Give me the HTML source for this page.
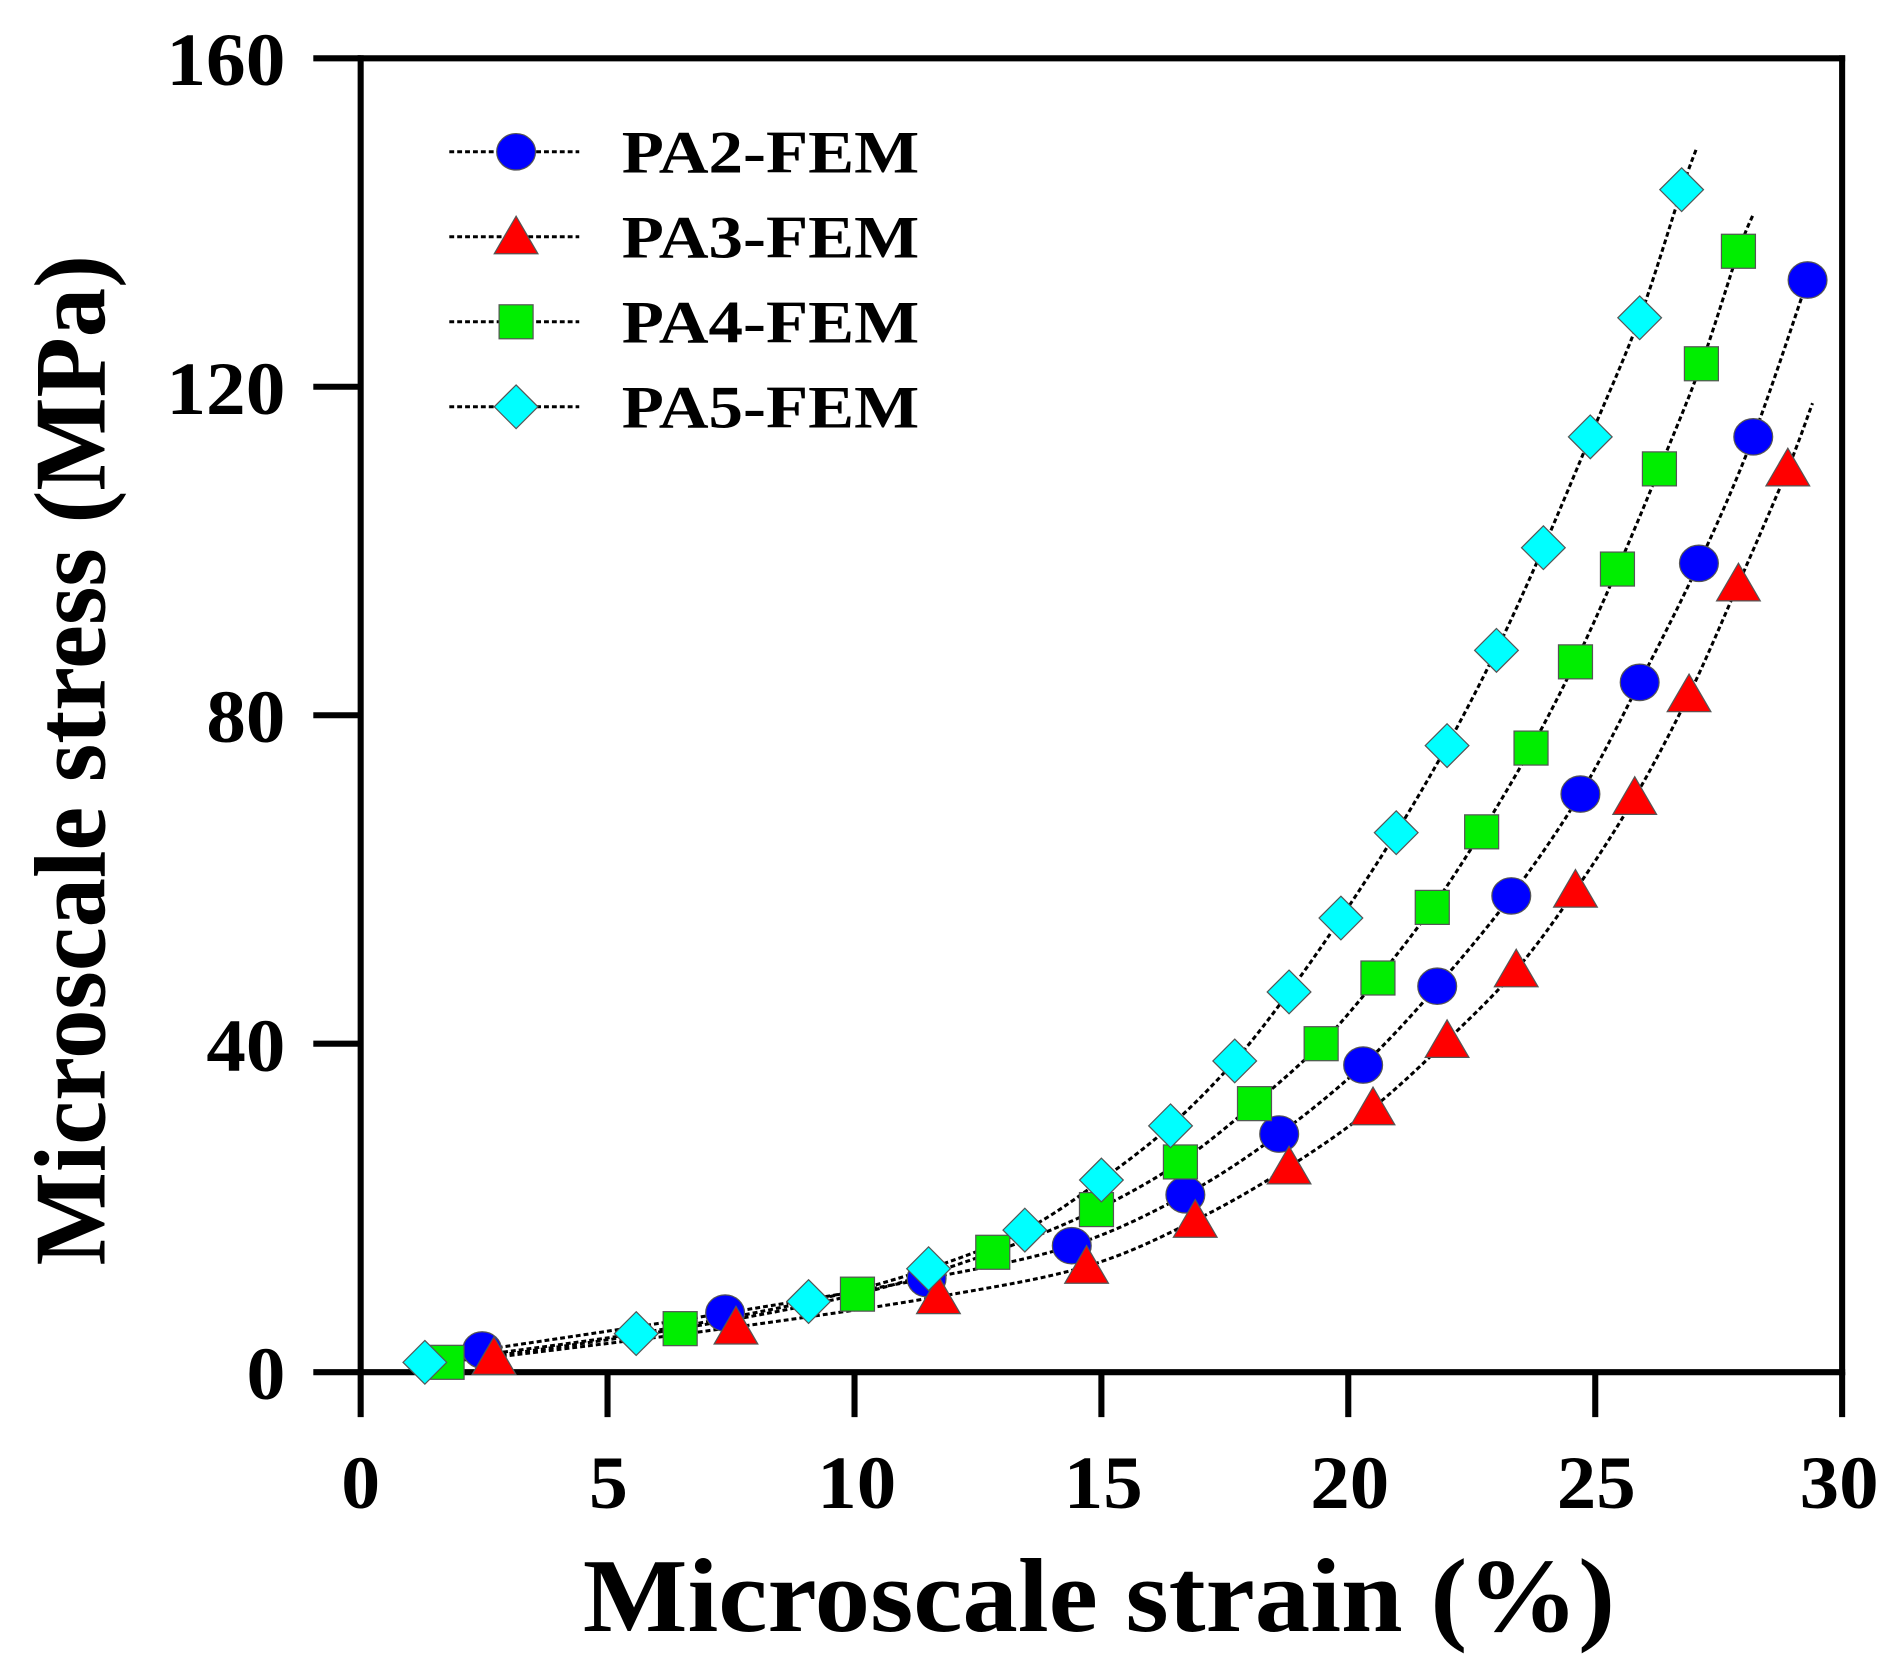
<!DOCTYPE html>
<html><head><meta charset="utf-8"><style>
html,body{margin:0;padding:0;background:#fff;}
svg{display:block;}
text{font-family:"Liberation Serif",serif;font-weight:bold;fill:#000;}
</style></head><body>
<svg id="s" width="1898" height="1680" viewBox="0 0 1563 1383.5" xmlns="http://www.w3.org/2000/svg">
<g stroke="#000" stroke-width="5" fill="none" stroke-linecap="butt">
<line x1="297" y1="45.5" x2="297" y2="1132.5"/>
<line x1="258" y1="1130" x2="1519.5" y2="1130"/>
<line x1="294.5" y1="48" x2="1519.5" y2="48"/>
<line x1="1517" y1="45.5" x2="1517" y2="1132.5"/>
<line x1="258" y1="48" x2="297" y2="48"/>
<line x1="258" y1="318.5" x2="297" y2="318.5"/>
<line x1="258" y1="589" x2="297" y2="589"/>
<line x1="258" y1="859.5" x2="297" y2="859.5"/>
<line x1="297" y1="1130" x2="297" y2="1167"/>
<line x1="500.3" y1="1130" x2="500.3" y2="1167"/>
<line x1="703.7" y1="1130" x2="703.7" y2="1167"/>
<line x1="907" y1="1130" x2="907" y2="1167"/>
<line x1="1110.3" y1="1130" x2="1110.3" y2="1167"/>
<line x1="1313.7" y1="1130" x2="1313.7" y2="1167"/>
<line x1="1517" y1="1130" x2="1517" y2="1167"/>
</g>
<g font-size="62">
<text x="137" y="70" textLength="98" lengthAdjust="spacingAndGlyphs">160</text>
<text x="137" y="341" textLength="98" lengthAdjust="spacingAndGlyphs">120</text>
<text x="170" y="611" textLength="65" lengthAdjust="spacingAndGlyphs">80</text>
<text x="170" y="882" textLength="65" lengthAdjust="spacingAndGlyphs">40</text>
<text x="203" y="1152" textLength="32" lengthAdjust="spacingAndGlyphs">0</text>
</g>
<g font-size="62">
<text x="281" y="1242" textLength="32" lengthAdjust="spacingAndGlyphs">0</text>
<text x="485" y="1242" textLength="32" lengthAdjust="spacingAndGlyphs">5</text>
<text x="673" y="1242" textLength="65" lengthAdjust="spacingAndGlyphs">10</text>
<text x="876" y="1242" textLength="65" lengthAdjust="spacingAndGlyphs">15</text>
<text x="1079" y="1242" textLength="65" lengthAdjust="spacingAndGlyphs">20</text>
<text x="1282" y="1242" textLength="65" lengthAdjust="spacingAndGlyphs">25</text>
<text x="1482" y="1242" textLength="65" lengthAdjust="spacingAndGlyphs">30</text>
</g>
<text x="480" y="1343" font-size="86" textLength="850" lengthAdjust="spacingAndGlyphs">Microscale strain (%)</text>
<text transform="translate(86,1042) rotate(-90)" font-size="84" textLength="832" lengthAdjust="spacingAndGlyphs">Microscale stress (MPa)</text>
<g id="plot"></g>
<g id="leg"></g>
</svg>
<script>
var NS="http://www.w3.org/2000/svg";
function X(v){return 297+v*40.667;}function Y(v){return 1130-v*6.7625;}
var S=[
{c:"#0000ff",m:"o",p:[[2.46,2.7],[7.38,7.2],[11.46,11.4],[14.4,15.4],[16.7,21.6],[18.6,29],[20.3,37.4],[21.8,47],[23.3,58],[24.7,70.4],[25.9,84],[27.1,98.5],[28.2,113.9],[29.3,133]],e:null},
{c:"#ff0000",m:"t",p:[[2.7,1.8],[7.6,5.5],[11.7,9.2],[14.7,12.9],[16.9,18.5],[18.8,25],[20.5,32.2],[22,40.4],[23.4,49],[24.6,58.7],[25.8,70],[26.9,82.5],[27.9,96],[28.9,110]],e:[29.4,118]},
{c:"#00ee00",m:"s",p:[[1.75,1.2],[6.47,5.3],[10.06,9.5],[12.8,14.6],[14.9,19.8],[16.6,25.6],[18.1,32.7],[19.45,40],[20.6,48],[21.7,56.6],[22.7,65.8],[23.7,76],[24.6,86.5],[25.45,97.8],[26.3,110],[27.15,122.8],[27.9,136.5]],e:[28.2,141]},
{c:"#00ffff",m:"d",p:[[1.3,1.2],[5.58,4.7],[9.07,8.6],[11.5,12.6],[13.45,17.3],[15.0,23.4],[16.4,30],[17.7,37.9],[18.8,46.3],[19.85,55.3],[20.97,65.7],[22.0,76.3],[23.0,87.9],[23.95,100.4],[24.9,113.9],[25.9,128.4],[26.75,144]],e:[27.05,149]}
];
function el(n,a,par){var e=document.createElementNS(NS,n);for(var k in a)e.setAttribute(k,a[k]);par.appendChild(e);return e;}
function marker(m,x,y,c,par){var st={fill:c,stroke:"#555","stroke-width":1};
 if(m=="o"){st.cx=x;st.cy=y;st.rx=16;st.ry=15;el("ellipse",st,par);}
 else if(m=="t"){st.points=(x)+","+(y-17)+" "+(x+18)+","+(y+14)+" "+(x-18)+","+(y+14);el("polygon",st,par);}
 else if(m=="s"){st.x=x-14;st.y=y-14;st.width=28;st.height=28;el("rect",st,par);}
 else {st.points=x+","+(y-18)+" "+(x+18)+","+y+" "+x+","+(y+18)+" "+(x-18)+","+y;el("polygon",st,par);}
}
var plot=document.getElementById("plot");
var lines=el("g",{},plot),mk=el("g",{},plot);
S.forEach(function(s){
 var pts=s.p.map(function(q){return [X(q[0]),Y(q[1])];});
 if(s.e)pts.push([X(s.e[0]),Y(s.e[1])]);
 var d="M"+pts[0][0]+","+pts[0][1];
 for(var i=0;i<pts.length-1;i++){var p0=pts[Math.max(0,i-1)],p1=pts[i],p2=pts[i+1],p3=pts[Math.min(pts.length-1,i+2)];
  d+=" C"+(p1[0]+(p2[0]-p0[0])/6)+","+(p1[1]+(p2[1]-p0[1])/6)+" "+(p2[0]-(p3[0]-p1[0])/6)+","+(p2[1]-(p3[1]-p1[1])/6)+" "+p2[0]+","+p2[1];}
 el("path",{d:d,fill:"none",stroke:"#000","stroke-width":2.5,"stroke-dasharray":"4 2.5"},lines);
 s.p.forEach(function(q){marker(s.m,X(q[0]),Y(q[1]),s.c,mk);});
});
var leg=document.getElementById("leg");var names=["PA2-FEM","PA3-FEM","PA4-FEM","PA5-FEM"];
[125,195,265,335].forEach(function(y,i){
 el("line",{x1:370,y1:y,x2:477,y2:y,stroke:"#000","stroke-width":2.5,"stroke-dasharray":"4 2.5"},leg);
 marker(S[i].m,425,y,S[i].c,leg);
 var t=el("text",{x:512,y:y+17,"font-size":"50",textLength:"245",lengthAdjust:"spacingAndGlyphs"},leg);t.textContent=names[i];
});
</script>
</body></html>
